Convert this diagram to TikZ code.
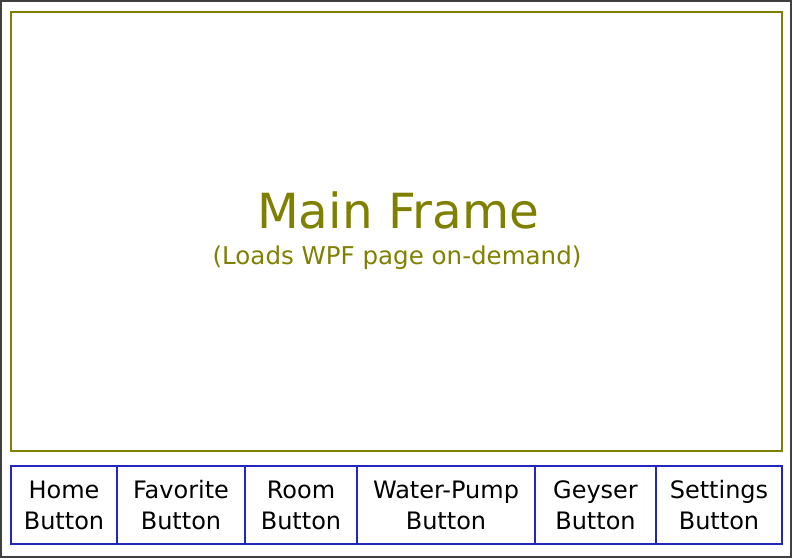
\documentclass[tikz,border=0pt]{standalone}
\usepackage{fontspec}
\setmainfont{DejaVu Sans}
\definecolor{olivec}{HTML}{808000}
\definecolor{bluec}{HTML}{2424BE}
\definecolor{grayc}{HTML}{404040}
\begin{document}
\begin{tikzpicture}[x=0.75pt,y=-0.75pt,
  btn/.style={draw=bluec,line width=1.5pt,minimum height=58.5pt,inner sep=0pt,outer sep=0pt,align=center,
    font=\fontsize{18}{23.25}\selectfont,anchor=west},
  frame/.style={draw=olivec,line width=1.5pt,minimum width=578.25pt,minimum height=329.25pt,inner sep=0pt,outer sep=0pt}]
\useasboundingbox (0,0) rectangle (792,558);
\draw[grayc,line width=1.5pt] (1,1) rectangle (791,557);
\node[frame] (main) at (396.5,231.5) {};
\node[olivec,font=\fontsize{36.3}{43}\selectfont,anchor=base] (title) at (398,228) {Main Frame};
\node[olivec,font=\fontsize{18.4}{22}\selectfont,anchor=base] (sub) at (397,264) {(Loads WPF page on-demand)};
\node[btn,minimum width=79.5pt] (home) at (11,505) {Home\\Button};
\node[btn,minimum width=96pt] (fav) at (home.east) {Favorite\\Button};
\node[btn,minimum width=84pt] (room) at (fav.east) {Room\\Button};
\node[btn,minimum width=133.5pt] (pump) at (room.east) {Water-Pump\\Button};
\node[btn,minimum width=90.75pt] (geyser) at (pump.east) {Geyser\\Button};
\node[btn,minimum width=94.5pt] (set) at (geyser.east) {Settings\\Button};
\end{tikzpicture}
\end{document}
